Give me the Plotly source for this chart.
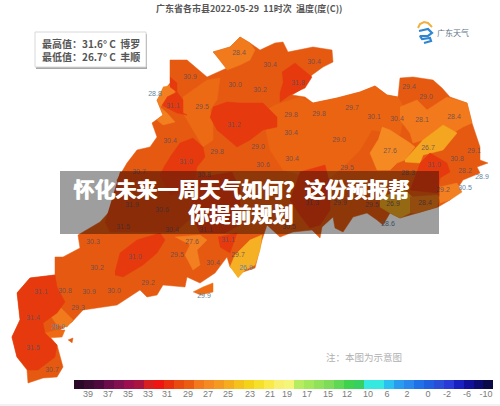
import plotly.graph_objects as go

# Map outline and districts (pixel coordinates)
province_x = [213,230,240,250,260,275,283,288,313,332,333,323,312,300,292,305,313,337,360,375,387,398,400,413,433,442,450,467,472,480,480,488,477,480,463,450,438,417,400,390,383,377,367,353,343,335,333,322,320,312,293,280,267,262,257,255,240,230,227,215,200,187,185,163,157,147,140,117,83,72,63,50,57,63,57,43,28,27,17,12,20,17,30,55,55,63,80,78,100,120,117,127,137,150,157,152,163,157,170,170,187,207,227]
province_y = [52,47,37,43,50,43,42,52,47,50,62,67,75,90,95,97,103,98,92,86,95,97,78,77,80,88,97,103,123,147,160,163,167,173,180,200,207,213,218,213,225,220,213,217,232,228,217,227,238,230,232,237,225,240,260,268,273,267,257,273,283,277,287,285,295,297,290,305,310,322,328,337,345,367,377,378,383,370,357,337,320,293,278,275,257,257,248,235,222,200,180,163,150,147,137,123,115,100,83,60,60,77,68]

island_a_x = [193,203,213,213,200]
island_a_y = [292,287,283,292,295]
island_b_x = [45,57,65,62,47]
island_b_y = [333,330,330,337,338]
island_c_x = [68,73,72]
island_c_y = [340,338,343]

light_north_x = [213,230,240,250,255,250,240,227]
light_north_y = [52,47,37,43,50,60,65,70]
light_west_x = [163,173,175,167,160,167,175,163,157,163,157]
light_west_y = [87,85,93,100,107,113,122,125,120,115,100]
mid_west_x = [183,207,220,217,210,213,213,203,193,183]
mid_west_y = [97,80,78,100,110,123,140,147,130,113]
central_x = [275,300,313,337,360,375,387,398,405,400,372,360,345,330,300,283,270,265,262]
central_y = [105,97,103,98,92,86,95,97,110,135,130,150,165,178,175,170,150,125,112]
east_light_x = [400,417,427,447,467,472,463,453,443,423,413,410,400]
east_light_y = [107,100,110,97,103,123,127,133,125,140,143,133,120]
amber_north_x = [405,423,443,457,443,423,420,405]
amber_north_y = [160,140,125,133,150,155,163,162]
light_mid_x = [382,390,410,415,405,397,390,377,370,378]
light_mid_y = [127,130,143,147,160,163,170,170,153,140]
red_north_x = [282,295,312,305,290,280,280,283]
red_north_y = [72,63,77,88,95,102,93,83]
red_west_x = [167,177,183,183,187,177,167,162]
red_west_y = [97,92,100,113,115,113,108,105]
red_west2_x = [170,177,177,170]
red_west2_y = [77,83,92,87]
red_mid_x = [213,227,240,250,263,277,277,263,250,237,217,210]
red_mid_y = [107,102,103,103,103,117,127,130,140,147,130,117]
red_low_x = [170,180,193,203,205,197,193,170,160,165]
red_low_y = [157,143,138,147,157,167,190,195,175,165]
red_east_x = [420,430,447,450,440,438,410]
red_east_y = [163,153,163,172,178,193,190]
red_banner_x = [300,325,330,330,320,310,300,290]
red_banner_y = [172,165,185,210,225,228,215,200]
red_south_x = [115,120,137,160,165,157,143,123,115]
red_south_y = [272,253,240,233,240,253,265,277,275]
red_gulf_x = [218,237,230,220]
red_gulf_y = [237,233,253,247]
light_south_x = [175,200,207,197,200,193,185,190]
light_south_y = [237,235,240,250,265,270,255,245]
amber_south_x = [230,235,250,262,260,255,245,238]
amber_south_y = [267,255,240,235,250,265,270,278]
red_tip_x = [17,30,55,57,65,57,43,45,57,55,38,28,17,12,20]
red_tip_y = [293,278,275,287,302,313,323,333,345,357,370,370,357,337,320]
light_bay_x = [60,73,67,57,50]
light_bay_y = [307,320,327,325,315]
banner_west_x = [120,205,210,195,175,110,105]
banner_west_y = [172,172,190,215,232,232,222]
banner_red_x = [197,232,240,240,225,200,190]
banner_red_y = [178,172,190,225,233,233,210]
banner_amber_x = [380,405,412,410,400,390,380]
banner_amber_y = [197,190,197,213,218,213,207]
banner_light_x = [410,437,440,437,417,410]
banner_light_y = [197,195,197,207,213,213]
east_spit_x = [440,457,462,450,440]
east_spit_y = [187,183,192,200,203]

# Temperature labels
label_text = ["28.4","30.9","31.1","29.5","30.0","31.2","30.4","29.8","31.0","30.7","30.8","30.4","30.4","31.8","30.2","29.8","29.8","29.7","30.1","30.4","29.4","29.0","28.1","28.4","30.4","29.0","29.0","27.6","26.7","29.1","30.8","31.0","30.4","30.6","29.5","28.3","28.2","29.2","31.3","29.9","29.5","26.9","28.4","30.5","31.9","30.6","31.5","30.4","31.1","30.3","27.6","31.1","29.7","31.0","29.5","30.4","30.2","29.2","30.8","30.9","30.0","31.1","29.3","31.4","31.5","30.7"]
label_x = [239,190,173,202,235,234,170,217,186,139,204,270,314,298,260,291,319,352,374,397,409,426,422,454,291,339,258,390,428,474,457,434,292,263,347,408,465,443,312,340,372,393,425,289,132,162,123,172,206,93,192,228,238,135,177,213,97,148,65,89,114,41,78,33,33,52]
label_y = [53,77,106,107,85,125,141,152,162,172,175,65,62,83,90,115,114,108,117,119,87,97,120,117,133,140,147,151,148,151,159,165,159,165,168,173,171,190,203,203,205,204,203,227,205,210,227,230,230,242,242,240,255,257,255,263,268,283,291,292,291,292,308,318,348,370]
coast_text = ["28.8","28.9","30.5","28.6","26.9","29.9","28.0"]
coast_x = [155,482,465,388,246,204,58]
coast_y = [94,177,188,224,268,296,327]

# Colour bar
scale_colors = ["#2a0a28","#3b0b33","#4f0a3d","#6b0c4b","#80104f","#9b0f4f","#a8143f","#d81f1f","#ee1610","#e8300f","#e84a10","#ea5c12","#f27a1c","#f58a22","#f59a20","#f5ad1f","#f5c21c","#f5d21a","#f7e02a","#f9ea4a","#f8f070","#f5f57a","#b5ec60","#a3e85a","#8fe25a","#7fdc5a","#5fd855","#3fd24f","#35d060","#35e8e0","#35e8e0","#2ac0f0","#2a9cf0","#2a88ec","#2070e8","#2060e0","#2a4ed8","#2a3ad8","#1a20c0","#10109a","#0c0c70","#0a0a48"]
scale_x = [79,89,99,109,119,129,139,149,159,169,179,189,199,209,219,229,239,249,259,269,279,289,299,309,319,329,339,349,359,369,379,389,399,409,419,429,439,449,459,469,479,488]
tick_text = ["39","37","35","33","31","29","27","25","23","21","19","17","15","12","10","6","2","0","-2","-6","-10"]
tick_x = [88,108,128,148,167,188,208,228,250,270,287,307,328,347,368,387,407,428,447,467,486]

# Logo
sun_x = [418,420,424,428,432]
sun_y = [28,24,22,23,27]
swirl_x = [419,428,432,428,420,422,430,431,424]
swirl_y = [31,29,33,36,36,39,38,41,43]

fig = go.Figure()


def add_area(xs, ys, color):
    fig.add_trace(go.Scatter(x=xs, y=ys, fill="toself", fillcolor=color, mode="lines",
                             line=dict(color=color, width=0.5), hoverinfo="skip"))


add_area(province_x, province_y, "#e55a10")
add_area(island_a_x, island_a_y, "#ee6a14")
add_area(island_b_x, island_b_y, "#ee6a14")
add_area(island_c_x, island_c_y, "#e8590f")
add_area(light_north_x, light_north_y, "#f07a1c")
add_area(light_west_x, light_west_y, "#f27f20")
add_area(mid_west_x, mid_west_y, "#ec6a14")
add_area(central_x, central_y, "#ea6412")
add_area(east_light_x, east_light_y, "#f27a1c")
add_area(light_mid_x, light_mid_y, "#f58a22")
add_area(amber_north_x, amber_north_y, "#f5a620")
add_area(light_south_x, light_south_y, "#f27f20")
add_area(amber_south_x, amber_south_y, "#f6b024")
add_area(light_bay_x, light_bay_y, "#f07a1c")
add_area(banner_west_x, banner_west_y, "#df480e")
add_area(banner_amber_x, banner_amber_y, "#f0a820")
add_area(banner_light_x, banner_light_y, "#ee7a18")
add_area(east_spit_x, east_spit_y, "#f27f20")
for xs, ys in [(red_north_x, red_north_y), (red_west_x, red_west_y), (red_west2_x, red_west2_y),
               (red_mid_x, red_mid_y), (red_low_x, red_low_y), (red_east_x, red_east_y),
               (red_banner_x, red_banner_y), (banner_red_x, banner_red_y), (red_south_x, red_south_y),
               (red_gulf_x, red_gulf_y), (red_tip_x, red_tip_y)]:
    add_area(xs, ys, "#e63a0e")

fig.add_trace(go.Scatter(x=label_x, y=label_y, mode="text", text=label_text, hoverinfo="skip",
                         textfont=dict(family="Liberation Sans", size=7, color="rgba(95,75,85,0.85)")))
fig.add_trace(go.Scatter(x=coast_x, y=coast_y, mode="text", text=coast_text, hoverinfo="skip",
                         textfont=dict(family="Liberation Sans", size=7, color="#5f86a0")))

# Colour bar and its ticks
fig.add_trace(go.Bar(x=scale_x, y=[9] * len(scale_x), base=380, width=10,
                     marker=dict(color=scale_colors, line=dict(width=0)), hoverinfo="skip"))
fig.add_trace(go.Scatter(x=tick_x, y=[395] * len(tick_x), mode="text", text=tick_text, hoverinfo="skip",
                         textfont=dict(family="Liberation Sans", size=9, color="#7b7b7b")))

fig.add_trace(go.Scatter(x=sun_x, y=sun_y, mode="lines", line=dict(color="#f0b040", width=2), hoverinfo="skip"))
fig.add_trace(go.Scatter(x=swirl_x, y=swirl_y, mode="lines", line=dict(color="#2f86d0", width=2.2), hoverinfo="skip"))

fig.update_layout(
    width=500, height=406,
    margin=dict(l=0, r=0, t=0, b=0),
    showlegend=False,
    plot_bgcolor="white",
    paper_bgcolor="white",
    bargap=0,
    xaxis=dict(range=[0, 500], visible=False, fixedrange=True),
    yaxis=dict(range=[406, 0], visible=False, fixedrange=True),
    shapes=[
        dict(type="rect", x0=36, y0=34, x1=147, y1=69, fillcolor="#a8a8a8", line_width=0, layer="above"),
        dict(type="rect", x0=35, y0=32, x1=146, y1=67, fillcolor="white", line=dict(color="#d8d8d8", width=1), layer="above"),
        dict(type="rect", x0=60, y0=171, x1=439, y1=234, fillcolor="rgba(0,0,0,0.38)", line_width=0, layer="above"),
        dict(type="line", x0=0, y0=405, x1=500, y1=405, line=dict(color="#dfe3e6", width=1), layer="above"),
    ],
)


def note(text, x, y, size, color, family="Noto Sans CJK SC", shadow="none"):
    fig.add_annotation(x=x, y=y, text=text, showarrow=False, xanchor="center", yanchor="middle",
                       font=dict(family=family, size=size, color=color, shadow=shadow))


note("<b>广东省各市县2022-05-29&nbsp;&nbsp;11时次&nbsp;&nbsp;温度(度(C))</b>", 249, 8, 9, "#555555")
note("<b>最高值：31.6° C&nbsp;&nbsp;博罗</b>", 91, 43, 10, "#555555")
note("<b>最低值：26.7° C&nbsp;&nbsp;丰顺</b>", 91, 56, 10, "#555555")
note("广东天气", 453, 32, 8, "#5c7486")
note("注：本图为示意图", 364, 357, 9.5, "#b0b0b0")
note("<b>怀化未来一周天气如何？这份预报帮</b>", 241, 188, 21, "white", shadow="1px 0 0 white")
note("<b>你提前规划</b>", 240, 213, 21, "white", shadow="1px 0 0 white")

# page margin off, so the figure sits at the window corner
fig.write_html("out.html", config={"displayModeBar": False},
               post_script="document.body.style.margin='0';")
